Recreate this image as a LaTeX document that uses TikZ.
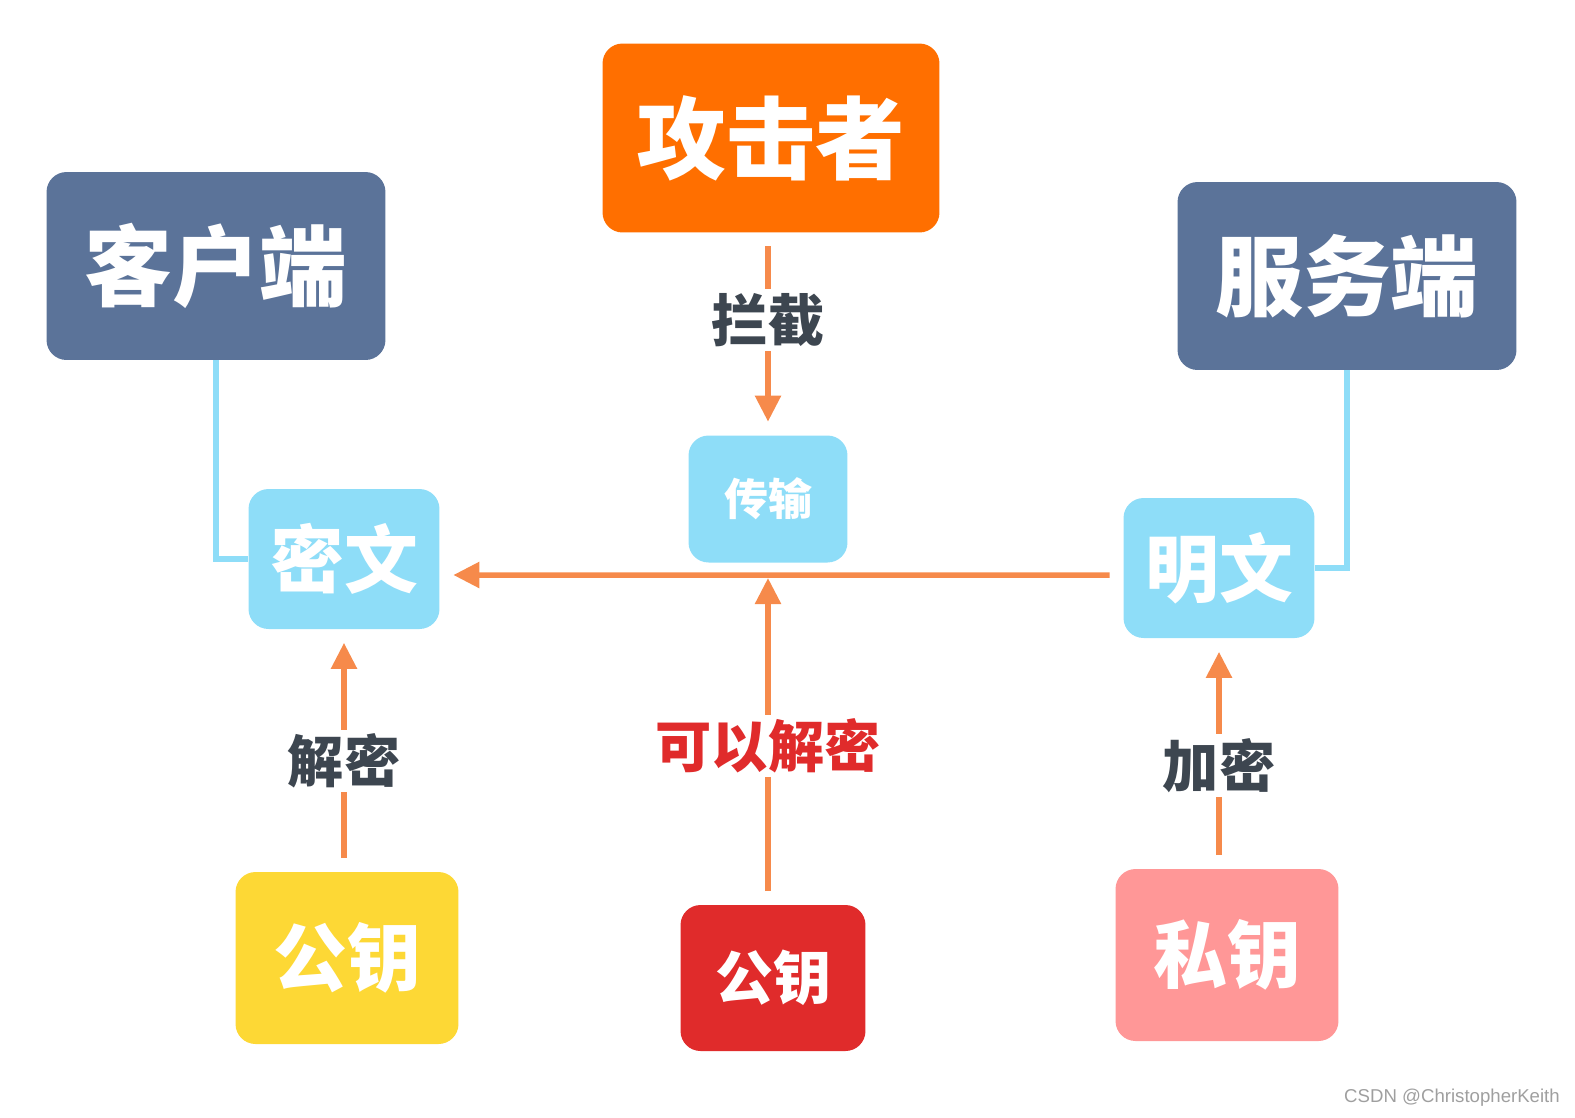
\documentclass[tikz,border=0pt]{standalone}
\usepackage{fontspec}
\setmainfont{Liberation Sans}
\newfontfamily\cjk{Noto Sans CJK SC}
\usetikzlibrary{arrows.meta, calc}
\definecolor{atkorange}{HTML}{FF6F00}
\definecolor{slate}{HTML}{5B7399}
\definecolor{skyb}{HTML}{8EDDF8}
\definecolor{arrorange}{HTML}{F68A4B}
\definecolor{labgray}{HTML}{3D4650}
\definecolor{keyyellow}{HTML}{FDD835}
\definecolor{keyred}{HTML}{E02B2B}
\definecolor{keypink}{HTML}{FF9797}
\newcommand{\fs}[1]{\fontsize{#1}{#1}\selectfont}
\tikzset{%
	box/.style={rectangle, rounded corners=0.4cm, inner sep=0mm, text=white},
	endbox/.style={box, fill=slate, minimum width=6.78cm, minimum height=3.76cm,%
		font=\cjk\bfseries\fs{50pt}},
	txtbox/.style={box, fill=skyb, minimum width=3.82cm, minimum height=2.8cm,%
		font=\cjk\bfseries\fs{42pt}},
	keybox/.style={box, minimum width=4.46cm, minimum height=3.44cm,%
		font=\cjk\bfseries\fs{42pt}},
	link/.style={draw=skyb, line width=0.12cm},
	arr/.style={draw=arrorange, line width=0.11cm,%
		-{Triangle[length=0.52cm,width=0.5cm]}, shorten <=0.27cm, shorten >=0.27cm},
	lab/.style={fill=white, inner sep=0.08cm, text=labgray, font=\cjk\bfseries\fs{32pt}}
}
\begin{document}
\begin{tikzpicture}[x=0.02cm, y=-0.02cm]
	\useasboundingbox (0,0) rectangle (1575,1117);
	\node[box, fill=atkorange, minimum width=6.74cm, minimum height=3.78cm,%
		font=\cjk\bfseries\fs{51pt}] (gj) at (771,138) {攻击者};
	\node[endbox] (kh) at (216,266) {客户端};
	\node[endbox] (fw) at (1347,276) {服务端};
	\node[txtbox, minimum width=3.18cm, minimum height=2.54cm,%
		font=\cjk\bfseries\fs{25pt}] (cs) at (768,499) {传输};
	\node[txtbox] (mw) at (344,559) {密文};
	\node[txtbox] (mingw) at (1219,568) {明文};
	\node[keybox, fill=keyyellow] (gyy) at (347,958) {公钥};
	\node[keybox, fill=keyred, minimum width=3.7cm, minimum height=2.92cm,%
		font=\cjk\bfseries\fs{33pt}] (gyr) at (773,978) {公钥};
	\node[keybox, fill=keypink] (sy) at (1227,955) {私钥};
	\coordinate (jc) at (768,578);
	\node[text=gray!75, font=\fs{10.6pt}, anchor=east] (csdn) at (1566,1098) {CSDN @ChristopherKeith};

	\draw [link] (kh.south) |- (mw.west);
	\draw [link] (fw.south) |- (mingw.east);
	\draw [arr] (cs.north |- gj.south) to node[lab, pos=0.43]{拦截} (cs.north);
	\draw [arr] ([yshift=-0.14cm]mingw.west) to ([yshift=-0.32cm]mw.east);
	\draw [arr, shorten >=0pt] (jc |- gyr.north) to node[lab, pos=0.486, text=keyred]{可以解密} (jc);
	\draw [arr] (mw.south |- gyy.north) to node[lab, pos=0.457]{解密} (mw.south);
	\draw [arr] (mingw.south |- sy.north) to node[lab, pos=0.448]{加密} (mingw.south);
\end{tikzpicture}
\end{document}
